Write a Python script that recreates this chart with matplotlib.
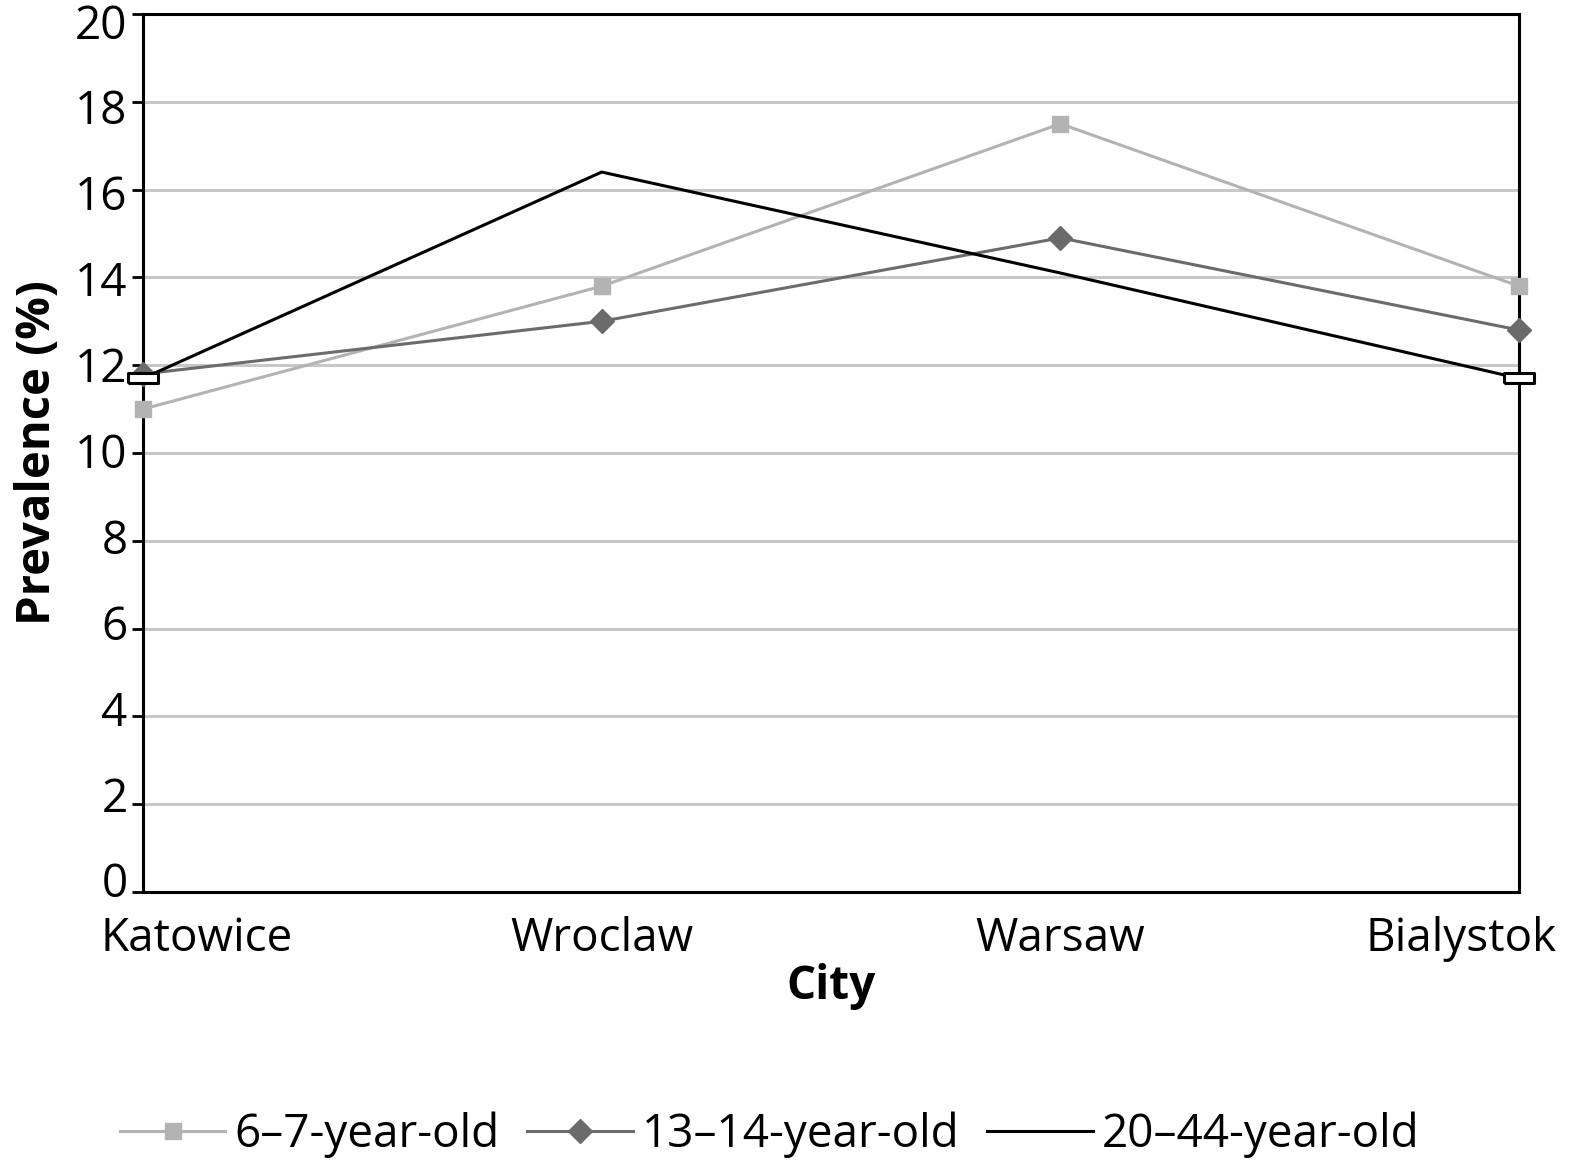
import matplotlib
matplotlib.use("Agg")
from matplotlib import pyplot as plt
from matplotlib.transforms import ScaledTranslation

plt.rcParams['font.family'] = ['Open Sans', 'DejaVu Sans']

cities = ["Katowice", "Wroclaw", "Warsaw", "Bialystok"]
age_6_7 = [11.0, 13.8, 17.5, 13.8]
age_13_14 = [11.8, 13.0, 14.9, 12.8]
age_20_44 = [11.7, 16.4, 14.1, 11.7]
yticks = list(range(0, 21, 2))

fig = plt.figure(figsize=(15.71, 11.69), dpi=100)
ax = fig.add_axes([0.091, 0.237, 0.876, 0.751])

x = list(range(len(cities)))
ax.plot(x, age_6_7, color="#b3b3b3", lw=2.2, marker="s", ms=12,
        label="6\u20137-year-old", clip_on=False, zorder=3)
ax.plot(x, age_13_14, color="#6b6b6b", lw=2.2, marker="D", ms=12,
        label="13\u201314-year-old", clip_on=False, zorder=4)
ax.plot(x, age_20_44, color="black", lw=2.2, label="20\u201344-year-old",
        clip_on=False, zorder=5)
# white end boxes on the 20-44 series
ax.plot([x[0], x[-1]], [age_20_44[0], age_20_44[-1]], ls="none",
        marker=[(-1, -0.35), (1, -0.35), (1, 0.35), (-1, 0.35), (-1, -0.35)],
        ms=22, mfc="white", mec="black", mew=2.2, clip_on=False, zorder=6)

ax.set_xlim(0, 3)
ax.set_ylim(0, 20)
ax.set_yticks(yticks)
ax.set_xticks(x)
ax.set_xticklabels(cities)
ax.yaxis.grid(True, color="#c8c8c8", lw=2.2)
ax.set_axisbelow(True)

for s in ax.spines.values():
    s.set_linewidth(2.2)

ax.tick_params(axis="y", labelsize=33, length=8, width=2, pad=3)
ax.tick_params(axis="x", labelsize=33, length=0, pad=17)

# push the end city labels inward like the original
labels = ax.get_xticklabels()
labels[0].set_transform(labels[0].get_transform() + ScaledTranslation(0.54, 0, fig.dpi_scale_trans))
labels[-1].set_transform(labels[-1].get_transform() + ScaledTranslation(-0.58, 0, fig.dpi_scale_trans))

# y labels in the original drift slightly: low ones sit above their tick, top ones below
ylabels = ax.get_yticklabels()
n = len(ylabels) - 1
for i, lab in enumerate(ylabels):
    dy = (12 - 19 * i / n) / 100.0
    lab.set_transform(lab.get_transform() + ScaledTranslation(0, dy, fig.dpi_scale_trans))

ax.set_ylabel("Prevalence (%)", fontsize=34, fontweight="bold", labelpad=10)
ax.set_xlabel("City", fontsize=33, fontweight="bold", labelpad=1)

fig.legend(loc="center", bbox_to_anchor=(0.49, 0.029), ncol=3, frameon=False,
           fontsize=33, handlelength=2.3, columnspacing=0.6, handletextpad=0.2)

fig.savefig("out.png", dpi=100)
